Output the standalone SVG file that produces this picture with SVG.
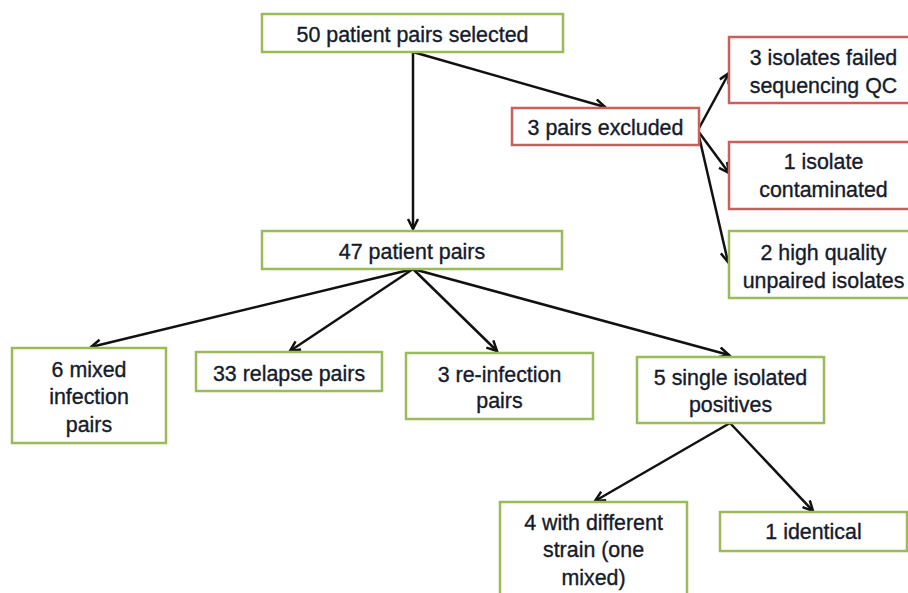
<svg xmlns="http://www.w3.org/2000/svg" width="908" height="593" viewBox="0 0 908 593">
<defs>
<marker id="arr" markerUnits="userSpaceOnUse" markerWidth="16" markerHeight="16" refX="11" refY="6" orient="auto">
<path d="M1,1 L11,6 L1,11" fill="none" stroke="#111" stroke-width="2.5" stroke-linejoin="miter"/>
</marker>
<style>
.g{fill:#fff;stroke:#9bbb59;stroke-width:2.5}
.r{fill:#fff;stroke:#c9605c;stroke-width:2.5}
text{font-family:"Liberation Sans",Arial,sans-serif;font-size:21.4px;fill:#151b2b;stroke:#151b2b;stroke-width:0.35;text-anchor:middle}
.c line{stroke:#111;stroke-width:2.5;marker-end:url(#arr)}
</style>
</defs>
<rect width="908" height="593" fill="#fff"/>
<g class="c" id="connectors">
<line x1="413" y1="52" x2="413" y2="229"/>
<line x1="413" y1="52" x2="605" y2="107"/>
<line x1="698" y1="130" x2="729" y2="73"/>
<line x1="698" y1="131" x2="729" y2="173"/>
<line x1="698" y1="132" x2="728" y2="262"/>
<line x1="413" y1="269" x2="91" y2="347"/>
<line x1="413" y1="269" x2="290" y2="351"/>
<line x1="413" y1="269" x2="497" y2="351"/>
<line x1="413" y1="269" x2="729" y2="355"/>
<line x1="730" y1="423" x2="595" y2="501"/>
<line x1="730" y1="423" x2="813" y2="511"/>
</g>
<g id="n50"><rect class="g" x="262" y="14" width="301" height="38"/><text x="412.5" y="42">50 patient pairs selected</text></g>
<g id="nexcl"><rect class="r" x="512" y="108" width="187" height="37"/><text x="605.5" y="135">3 pairs excluded</text></g>
<g id="nqc"><rect class="r" x="729" y="37" width="190" height="66"/><text x="823.5" y="65">3 isolates failed</text><text x="823.5" y="93">sequencing QC</text></g>
<g id="ncont"><rect class="r" x="729" y="142" width="190" height="67"/><text x="823.5" y="169">1 isolate</text><text x="823.5" y="197">contaminated</text></g>
<g id="nhq"><rect class="g" x="729" y="231" width="190" height="67"/><text x="823.5" y="260">2 high quality</text><text x="823.5" y="288">unpaired isolates</text></g>
<g id="n47"><rect class="g" x="262" y="231" width="300" height="38"/><text x="412" y="259">47 patient pairs</text></g>
<g id="nmixed"><rect class="g" x="12" y="348" width="154" height="95"/><text x="89" y="377">6 mixed</text><text x="89" y="404">infection</text><text x="89" y="432">pairs</text></g>
<g id="nrelapse"><rect class="g" x="196" y="352" width="186" height="39"/><text x="289" y="381">33 relapse pairs</text></g>
<g id="nreinf"><rect class="g" x="406" y="353" width="187" height="66"/><text x="499.5" y="382">3 re-infection</text><text x="499.5" y="408">pairs</text></g>
<g id="nsingle"><rect class="g" x="637" y="357" width="187" height="66"/><text x="730.5" y="385">5 single isolated</text><text x="730.5" y="412">positives</text></g>
<g id="ndiff"><rect class="g" x="500" y="502" width="187" height="100"/><text x="593.5" y="530">4 with different</text><text x="593.5" y="557">strain (one</text><text x="593.5" y="585">mixed)</text></g>
<g id="nident"><rect class="g" x="720" y="512" width="187" height="39"/><text x="813.5" y="539">1 identical</text></g>
</svg>
